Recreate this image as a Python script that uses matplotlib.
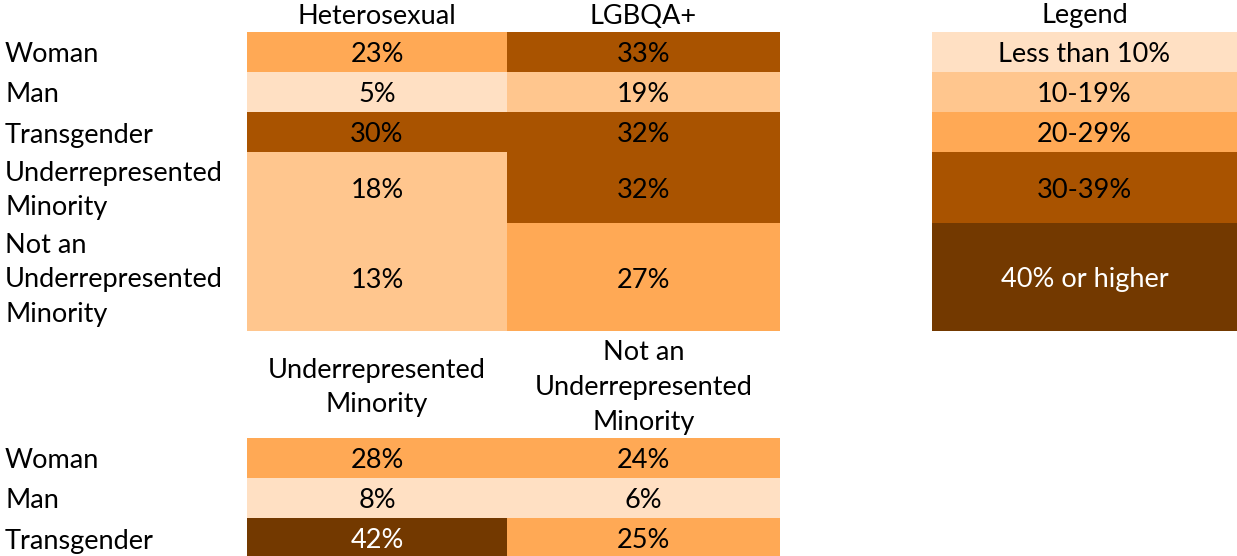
import numpy as np
import matplotlib.pyplot as plt
from matplotlib.colors import ListedColormap, BoundaryNorm

# data
rows_top = ["Woman", "Man", "Transgender", "Underrepresented\nMinority",
            "Not an\nUnderrepresented\nMinority"]
cols_top = ["Heterosexual", "LGBQA+"]
heterosexual = [23, 5, 30, 18, 13]
lgbqa = [33, 19, 32, 32, 27]

rows_bottom = ["Woman", "Man", "Transgender"]
cols_bottom = ["Underrepresented\nMinority", "Not an\nUnderrepresented\nMinority"]
urm = [28, 8, 42]
not_urm = [24, 6, 25]

legend_labels = ["Less than 10%", "10-19%", "20-29%", "30-39%", "40% or higher"]
legend_values = [5, 15, 25, 35, 45]
bins = [0, 10, 20, 30, 40, 101]

colors = ["#FFE0C3", "#FFC68E", "#FFA955", "#A95300", "#733900"]
cmap = ListedColormap(colors)
norm = BoundaryNorm(bins, cmap.N)

plt.rcParams['font.family'] = ['Lato', 'DejaVu Sans']
FS = 19.5
LS = 1.48   # line spacing of the wrapped labels
DY = 3      # text sits a little below the cell centre

fig = plt.figure(figsize=(12.37, 5.56), dpi=100)
ax = fig.add_axes([0, 0, 1, 1])
ax.set_xlim(0, 1237)
ax.set_ylim(556, 0)
ax.axis("off")

# layout (pixels)
line_h = {1: 40, 2: 71, 3: 108}
col_edges = [247, 507, 780]
legend_x = (932, 1237)
label_x = 5


def row_edges(labels, top):
    edges = [top]
    for lab in labels:
        edges.append(edges[-1] + line_h[lab.count("\n") + 1])
    return edges


def draw_table(rows, cols, series, top, header_y):
    edges = row_edges(rows, top)
    tops = np.array(edges[:-1])
    heights = np.diff(edges)
    for j, (col, vals) in enumerate(zip(cols, series)):
        x0, x1 = col_edges[j], col_edges[j + 1]
        ax.bar((x0 + x1) / 2, heights, bottom=tops, width=x1 - x0,
               color=cmap(norm(vals)), linewidth=0)
        ax.text((x0 + x1) / 2, header_y, col, ha="center", va="center",
                fontsize=FS, linespacing=LS)
        for t, h, v in zip(tops, heights, vals):
            ax.text((x0 + x1) / 2, t + h / 2 + DY, f"{v}%", ha="center",
                    va="center", fontsize=FS,
                    color="white" if v >= 40 else "black")
    for t, h, lab in zip(tops, heights, rows):
        ax.text(label_x, t + h / 2 + DY, lab, ha="left", va="center",
                fontsize=FS, linespacing=LS)
    return edges[-1]


bottom1 = draw_table(rows_top, cols_top, [heterosexual, lgbqa], 32, 16)
draw_table(rows_bottom, cols_bottom, [urm, not_urm], bottom1 + 107,
           bottom1 + 107 / 2 + DY)

# legend column, rows aligned with the top table
edges = row_edges(rows_top, 32)
tops = np.array(edges[:-1])
heights = np.diff(edges)
lx = (legend_x[0] + legend_x[1]) / 2
ax.bar(lx, heights, bottom=tops, width=legend_x[1] - legend_x[0],
       color=cmap(norm(legend_values)), linewidth=0)
ax.text(lx, 16, "Legend", ha="center", va="center", fontsize=FS)
for t, h, lab, v in zip(tops, heights, legend_labels, legend_values):
    ax.text(lx, t + h / 2 + DY, lab, ha="center", va="center", fontsize=FS,
            color="white" if v >= 40 else "black")

fig.savefig("out.png", dpi=100)
